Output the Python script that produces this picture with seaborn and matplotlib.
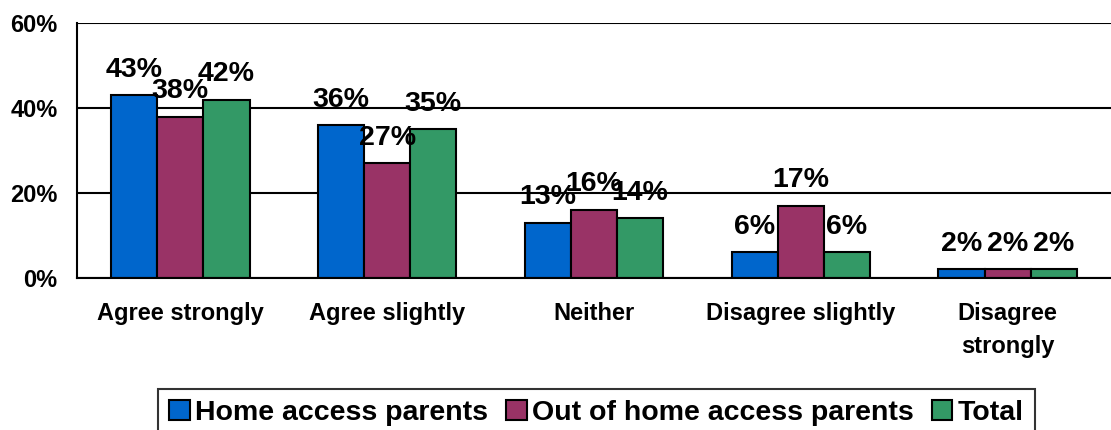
import matplotlib.pyplot as plt
import pandas as pd
import seaborn as sns
from matplotlib.ticker import FixedLocator

# Data
categories = ['Agree strongly', 'Agree slightly', 'Neither', 'Disagree slightly', 'Disagree\nstrongly']
groups = ['Home access parents', 'Out of home access parents', 'Total']
home_access = [43, 36, 13, 6, 2]
out_of_home = [38, 27, 16, 17, 2]
total = [42, 35, 14, 6, 2]
y_ticks = [0, 20, 40, 60]

rows = []
for g, vals in zip(groups, [home_access, out_of_home, total]):
    for c, v in zip(categories, vals):
        rows.append({'Category': c, 'Group': g, 'Value': v})
df = pd.DataFrame(rows)

sns.set_style("white")
plt.rcParams['font.family'] = ['Liberation Sans', 'DejaVu Sans']
plt.rcParams['font.weight'] = 'bold'
plt.rcParams['text.color'] = 'black'
plt.rcParams['xtick.color'] = 'black'
plt.rcParams['ytick.color'] = 'black'
plt.rcParams['xtick.labelcolor'] = 'black'
plt.rcParams['ytick.labelcolor'] = 'black'

fig = plt.figure(figsize=(11.11, 4.30), dpi=100)
ax = fig.add_axes([0.0693, 0.3535, 0.9307, 0.593])

colors = ['#0066CC', '#993366', '#339966']
sns.barplot(data=df, x='Category', y='Value', hue='Group', order=categories,
            hue_order=groups, palette=colors, width=0.67, edgecolor='black',
            linewidth=1.5, saturation=1, ax=ax)

# value labels above bars
for cont in ax.containers:
    ax.bar_label(cont, labels=[f'{int(v)}%' for v in cont.datavalues],
                 padding=9, fontsize=20.5, fontweight='bold', color='black')

ax.set_xlim(-0.5, 4.5)
ax.set_ylim(0, 60)
ax.set_yticks(y_ticks)
ax.set_yticklabels([f'{t}%' for t in y_ticks], fontsize=17, fontweight='bold')
ax.yaxis.grid(True, color='black', linewidth=1.5)
ax.set_axisbelow(True)

ax.set_xticks(range(len(categories)))
ax.set_xticklabels(categories, fontsize=17, fontweight='bold', linespacing=1.6)
ax.tick_params(axis='x', which='major', length=0, pad=17)
ax.xaxis.set_minor_locator(FixedLocator([i - 0.5 for i in range(len(categories) + 1)]))
ax.tick_params(axis='x', which='minor', length=8, width=1.5, color='black', direction='out')
ax.tick_params(axis='y', length=7, width=1.5, color='black', direction='out', pad=7)

for s in ['top', 'right']:
    ax.spines[s].set_visible(False)
for s in ['left', 'bottom']:
    ax.spines[s].set_color('black')
    ax.spines[s].set_linewidth(1.5)

ax.set_xlabel('')
ax.set_ylabel('')
handles, labels = ax.get_legend_handles_labels()
ax.get_legend().remove()
leg = fig.legend(handles, labels, loc='upper center', bbox_to_anchor=(0.537, 0.095),
                 ncol=3, frameon=True, fancybox=False, edgecolor='black',
                 fontsize=20.5, handlelength=0.72, handleheight=0.68,
                 handletextpad=0.2, columnspacing=0.62, borderpad=0.38,
                 borderaxespad=0)
leg.get_frame().set_linewidth(1.5)
for t in leg.get_texts():
    t.set_fontweight('bold')
    t.set_color('black')

fig.savefig('out.png', dpi=100)
